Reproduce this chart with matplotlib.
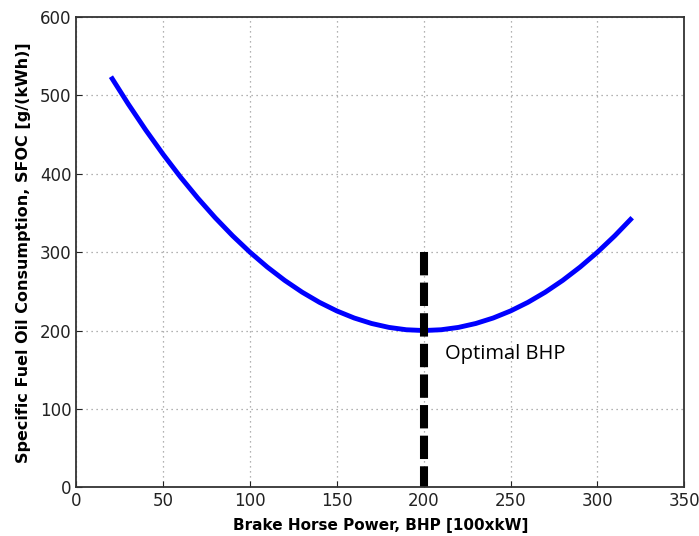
import matplotlib
matplotlib.use("Agg")
import matplotlib.pyplot as plt

# Brake horse power [100xkW] and SFOC [g/(kWh)]
bhp = [20, 30, 40, 50, 60, 70, 80, 90, 100, 110, 120, 130, 140, 150, 160,
       170, 180, 190, 200, 210, 220, 230, 240, 250, 260, 270, 280, 290,
       300, 310, 320]
sfoc = [524, 489, 456, 425, 396, 369, 344, 321, 300, 281, 264, 249, 236,
        225, 216, 209, 204, 201, 200, 201, 204, 209, 216, 225, 236, 249,
        264, 281, 300, 321, 344]

optimal_bhp = 200
optimal_line_y = [300, 0]

fig = plt.figure(figsize=(6.99, 5.36), dpi=100)
ax = fig.add_axes([0.109, 0.091, 0.870, 0.877])

ax.plot(bhp, sfoc, color="#0000ff", linewidth=3.5, solid_capstyle="butt")
ax.plot([optimal_bhp, optimal_bhp], optimal_line_y, color="black",
        linewidth=5.8, linestyle=(0, (2.9, 0.9)), dash_capstyle="butt")
ax.text(212, 170, "Optimal BHP", fontsize=14.5, family="Open Sans",
        va="center", ha="left")

ax.set_xlim(0, 350)
ax.set_ylim(0, 600)
ax.set_xticks(range(0, 351, 50))
ax.set_yticks(range(0, 601, 100))
ax.tick_params(direction="in", labelsize=12, colors="#222222", length=4)
ax.grid(True, linestyle=(0, (1, 3)), color="#999999", linewidth=0.9)
for spine in ax.spines.values():
    spine.set_linewidth(1.3)
    spine.set_color("#333333")

ax.set_xlabel("Brake Horse Power, BHP [100xkW]", fontsize=11,
              fontweight="bold", labelpad=6)
ax.set_ylabel("Specific Fuel Oil Consumption, SFOC [g/(kWh)]", fontsize=11.5,
              fontweight="bold", labelpad=6)

fig.savefig("out.png", dpi=100)
